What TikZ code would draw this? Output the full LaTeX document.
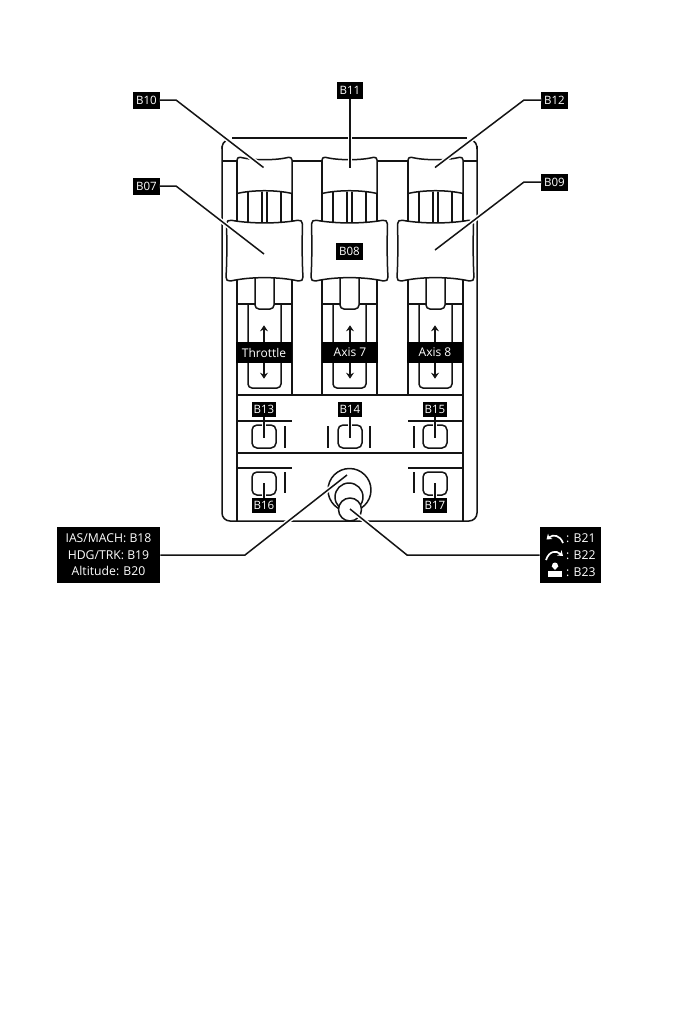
\documentclass[tikz,border=0pt]{standalone}
\usepackage{fontspec}
\setmainfont{Open Sans}
\usetikzlibrary{arrows.meta,calc}
\definecolor{ink}{HTML}{141414}
\tikzset{
  ln/.style={draw=ink,line width=1.5pt,line join=round},
  solid white/.style={ln,fill=white},
  tag/.style={fill=black,text=white,inner sep=0pt,minimum width=26.5pt,minimum height=17pt,font=\fontsize{11.5}{14}\selectfont},
  smalltag/.style={tag,minimum width=24.5pt,minimum height=15.5pt},
  axistag/.style={fill=black,text=white,inner sep=0pt,minimum width=56pt,minimum height=21pt,font=\fontsize{12}{14}\selectfont},
  infobox/.style={fill=black,text=white,inner sep=0pt,font=\fontsize{12.2}{16.6}\selectfont},
  ctltext/.style={text=white,inner sep=0pt,anchor=west,font=\fontsize{12.2}{14}\selectfont},
  lead/.style={draw=ink,line width=1.5pt,line join=miter,preaction={draw=white,line width=4.5pt}},
  axisarrow/.style={draw=ink,line width=2pt,-{Stealth[length=6pt,width=8pt]}},
  icon/.style={draw=white,line width=1.7pt,-{Stealth[length=5pt,width=7pt]}},
}
\begin{document}
\begin{tikzpicture}[x=1pt,y=-1pt]
\useasboundingbox (0,0) rectangle (680,1021);
\fill[white] (0,0) rectangle (680,1021);
% housing
\draw[ln] (232,138) -- (467,138);
\draw[ln] (226.5,140) .. controls (224,141.5) and (222,144) .. (222,149);
\draw[ln] (472.5,140) .. controls (475,141.5) and (477,144) .. (477,149);
\draw[ln,rounded corners=8pt] (222,146) -- (222,521) -- (477,521) -- (477,146);
\draw[ln] (222,161) -- (477,161);
\draw[ln] (237,161) -- (237,521);
\draw[ln] (463,161) -- (463,521);
\draw[ln] (237,395) -- (463,395);
\draw[ln] (237,453) -- (463,453);
% sliders
\foreach \cx in {264.5,349.5,435.5}{
  \begin{scope}[shift={(\cx,0)}]
    \fill[white] (-27.5,162) rectangle (27.5,394);
    \draw[ln] (-27.5,161) -- (-27.5,395);
    \draw[ln] (27.5,161) -- (27.5,395);
    \draw[ln] (-16.5,192) -- (-16.5,223);
    \draw[ln] (16.5,192) -- (16.5,223);
    \draw[ln] (-2.5,192) -- (-2.5,223);
    \draw[ln] (2.5,192) -- (2.5,223);
    % upper cap
    \draw[solid white] (-27.5,193.5) -- (-27.5,160)
      .. controls (-27.5,158) and (-26,157) .. (-24,157.3)
      .. controls (-12,160.5) and (12,160.5) .. (24,157.3)
      .. controls (26,157) and (27.5,158) .. (27.5,160)
      -- (27.5,193.5)
      .. controls (12,189.8) and (-12,189.8) .. (-27.5,193.5) -- cycle;
    % slot and stem
    \draw[ln,rounded corners=4pt] (-16.5,304) -- (-16.5,388) -- (16.5,388) -- (16.5,304);
    \draw[ln] (-27.5,304) -- (27.5,304);
    \draw[solid white,rounded corners=4pt] (-9.5,278) -- (-9.5,309) -- (9.5,309) -- (9.5,278);
    % big knob
    \draw[solid white] (-33,220.3)
      .. controls (-14,223.8) and (14,223.8) .. (33,220.3)
      .. controls (36,219.8) and (38,221) .. (38,224)
      .. controls (37.5,240) and (37.5,262) .. (38.5,277)
      .. controls (38.5,280) and (37,281.3) .. (34,281)
      .. controls (14,276.5) and (-14,276.5) .. (-34,281)
      .. controls (-37,281.3) and (-38.5,280) .. (-38.5,277)
      .. controls (-37.5,262) and (-37.5,240) .. (-38,224)
      .. controls (-38,221) and (-36,219.8) .. (-33,220.3) -- cycle;
  \end{scope}
}
% axis labels and arrows
\node[axistag] (thr) at (264,352.5) {Throttle};
\node[axistag] (ax7) at (350,352.5) {Axis 7};
\node[axistag] (ax8) at (435,352.5) {Axis 8};
\foreach \n in {thr,ax7,ax8}{
  \draw[axisarrow] (\n.north) -- ++(0,-16.5);
  \draw[axisarrow] (\n.south) -- ++(0,15.5);
}
% buttons
\foreach \x/\y in {264/425,350/425,435/425,264/472,435/472}{
  \draw[ln,rounded corners=5pt] (\x-12,\y) rectangle (\x+12,\y+23);
}
\draw[ln] (285,426) -- (285,448);
\draw[ln] (328,426) -- (328,448);
\draw[ln] (370,426) -- (370,448);
\draw[ln] (414,426) -- (414,448);
\draw[ln] (285,472) -- (285,493);
\draw[ln] (414,472) -- (414,493);
% joystick
\draw[solid white] (349.5,490) circle[radius=21.5];
\draw[solid white] (349,497) circle[radius=14];
\draw[solid white] (350,509.5) circle[radius=11.5];
% tags
\node[tag] (b10) at (146.5,100) {B10};
\node[tag] (b07) at (146.5,186) {B07};
\node[tag] (b11) at (350,90.5) {B11};
\node[tag] (b12) at (554.5,100) {B12};
\node[tag] (b09) at (554.5,182) {B09};
\node[tag] (b08) at (349.5,251) {B08};
\node[smalltag] (b13) at (264,409.5) {B13};
\node[smalltag] (b14) at (350,409.5) {B14};
\node[smalltag] (b15) at (435,409.5) {B15};
\node[smalltag] (b16) at (264,505.5) {B16};
\node[smalltag] (b17) at (435,505.5) {B17};
\node[infobox,minimum width=103.5pt,minimum height=56pt,align=center] (info) at (108.5,555) {IAS/MACH: B18\\HDG/TRK: B19\\Altitude: B20};
\node[fill=black,minimum width=61.5pt,minimum height=56pt,inner sep=0pt] (ctl) at (570.5,555) {};
% control box content
\node[ctltext] (t21) at (566,538.5) {: B21};
\node[ctltext] (t22) at (566,555) {: B22};
\node[ctltext] (t23) at (566,572) {: B23};
\draw[icon] (563,543) .. controls (560,535) and (553,534) .. (546.5,539.5);
\draw[icon] (546,560) .. controls (549,551) and (556,550) .. (563,556);
\fill[white] (555,565.5) circle[radius=3];
\fill[white] (551.5,566) -- (558.5,566) -- (555,570) -- cycle;
\fill[white] (548,571) rectangle (562,576.5);
% leader ends
\coordinate (e10a) at (176,100);  \coordinate (e10) at (263.5,167.5);
\coordinate (e07a) at (176,186);  \coordinate (e07) at (264,254);
\coordinate (e11) at (350,168);
\coordinate (e12a) at (524,100);  \coordinate (e12) at (435,167.5);
\coordinate (e09a) at (524,182);  \coordinate (e09) at (435,250);
\coordinate (infoa) at (245,555); \coordinate (infoe) at (347,475);
\coordinate (ctla) at (407,555);  \coordinate (ctle) at (350,509);
\coordinate (e13) at (264,438); \coordinate (e14) at (350,438); \coordinate (e15) at (435,438);
\coordinate (e16) at (264,483); \coordinate (e17) at (435,483);
\draw[lead] (b10.east) -- (e10a) -- (e10);
\draw[lead] (b07.east) -- (e07a) -- (e07);
\draw[lead] (b11.south) -- (e11);
\draw[lead] (b12.west) -- (e12a) -- (e12);
\draw[lead] (b09.west) -- (e09a) -- (e09);
\draw[lead] (info.east) -- (infoa) -- (infoe);
\draw[lead] (ctl.west) -- (ctla) -- (ctle);
\draw[lead] (b13.south) -- (e13);
\draw[lead] (b14.south) -- (e14);
\draw[lead] (b15.south) -- (e15);
\draw[lead] (b16.north) -- (e16);
\draw[lead] (b17.north) -- (e17);
% divider rules over the short leaders
\draw[ln] (237,421) -- (292,421);
\draw[ln] (408,421) -- (463,421);
\draw[ln] (237,468) -- (292,468);
\draw[ln] (408,468) -- (463,468);
\end{tikzpicture}
\end{document}
